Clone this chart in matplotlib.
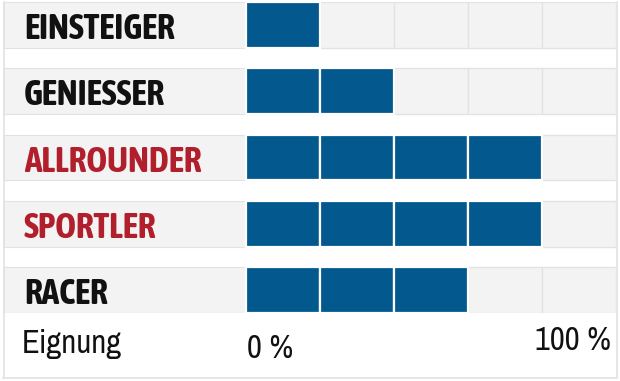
import matplotlib
matplotlib.use("Agg")
import matplotlib.pyplot as plt
from matplotlib import font_manager
from matplotlib.font_manager import FontProperties

categories = ["EINSTEIGER", "GENIESSER", "ALLROUNDER", "SPORTLER", "RACER"]
scores = [1, 2, 4, 4, 3]          # filled cells out of 5
highlight = [False, False, True, True, False]
n_cells = 5
axis_label = "Eignung"
tick_labels = ["0 %", "100 %"]

# find a condensed / narrow font if one is installed
def pick(bold):
    cands = []
    for f in font_manager.fontManager.ttflist:
        narrow = (f.stretch in ("condensed", "semi-condensed", "extra-condensed", "ultra-condensed")
                  or "Narrow" in f.name or "Condensed" in f.name)
        if not narrow or f.style != "normal":
            continue
        w = f.weight if isinstance(f.weight, int) else (700 if "bold" in str(f.weight) else 400)
        score = abs(w - (700 if bold else 400))
        cands.append((score, f.name, f.fname))
    if cands:
        cands.sort()
        return FontProperties(fname=cands[0][2]), True
    return FontProperties(family="DejaVu Sans", weight="bold" if bold else "normal"), False

fp_bold, cond_b = pick(True)
fp_reg, cond_r = pick(False)

BG = "#f3f3f3"
GRID = "#e2e2e2"
BAR = "#03598e"
RED = "#b01f2b"

W, H = 620, 381
fig = plt.figure(figsize=(W / 100, H / 100), dpi=100)
fig.patch.set_facecolor("white")

x0, x1 = 3, 616
ytop, ybot = 2, 313
ax = fig.add_axes([x0 / W, 1 - ybot / H, (x1 - x0) / W, (ybot - ytop) / H])
cell_w = 100 / n_cells
px_per_unit = (616 - 246) / 100.0
left_lim = -(246 - x0) / px_per_unit
ax.set_xlim(left_lim, 100)
band_h = 46 / 66.5
ax.set_ylim(len(categories) - 1 + band_h / 2, -band_h / 2)
ax.axis("off")
py_per_unit = (ybot - ytop) / (len(categories) - 1 + band_h)

lab_size = 25.5 if cond_b else 19.5
reg_size = 23.5 if cond_r else 19

for i, (cat, s, hl) in enumerate(zip(categories, scores, highlight)):
    ax.barh(i, 100 - left_lim, left=left_lim, height=band_h, color=BG,
            edgecolor=GRID, linewidth=0.8, zorder=1)
    for c in range(n_cells):
        filled = c < s
        ax.barh(i, cell_w, left=c * cell_w, height=band_h,
                color=BAR if filled else BG,
                edgecolor="white" if filled else GRID,
                linewidth=1.6 if filled else 0.9, zorder=3 if filled else 2)
    ax.text(left_lim + 21 / px_per_unit, i + 14 / py_per_unit, cat, ha="left", va="baseline",
            fontproperties=fp_bold, fontsize=lab_size,
            color=RED if hl else "#111111", zorder=4)

fig.add_artist(plt.Line2D([3.5 / W, 3.5 / W], [1 - 377 / H, 1 - 2 / H], color=GRID, lw=1.2))
fig.add_artist(plt.Line2D([616.5 / W, 616.5 / W], [1 - 377 / H, 1 - 2 / H], color=GRID, lw=1.2))
fig.add_artist(plt.Line2D([3 / W, 617 / W], [1 - 377.5 / H, 1 - 377.5 / H], color=GRID, lw=1.2))

fig.text(22 / W, 1 - 353 / H, axis_label, ha="left", va="baseline",
         fontproperties=fp_reg, fontsize=reg_size, color="#111111")
fig.text(247 / W, 1 - 358 / H, tick_labels[0], ha="left", va="baseline",
         fontproperties=fp_reg, fontsize=reg_size, color="#111111")
fig.text(611 / W, 1 - 350 / H, tick_labels[1], ha="right", va="baseline",
         fontproperties=fp_reg, fontsize=reg_size, color="#111111")

fig.savefig("out.png", dpi=100)
